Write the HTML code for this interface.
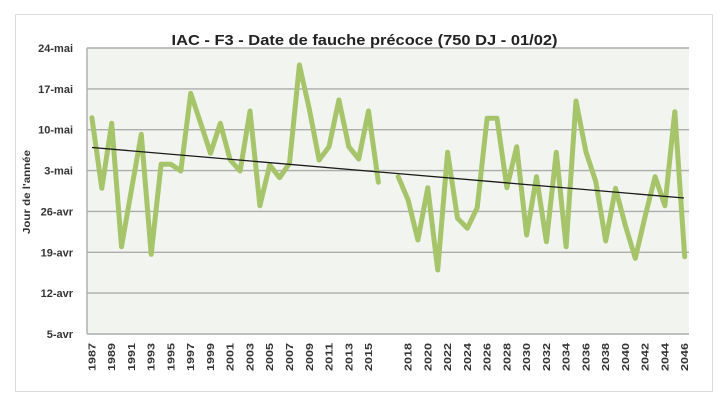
<!DOCTYPE html>
<html><head><meta charset="utf-8"><style>
html,body{margin:0;padding:0;background:#fff;}
svg{display:block;}
text{font-family:"Liberation Sans",sans-serif;font-weight:bold;}
</style></head><body>
<svg width="727" height="405" viewBox="0 0 727 405" xmlns="http://www.w3.org/2000/svg">
<rect x="0" y="0" width="727" height="405" fill="#fff"/>
<rect x="15.5" y="14.5" width="697" height="377" fill="#fff" stroke="#dcdcdc" stroke-width="1"/>
<rect x="87" y="48" width="602" height="286" fill="#f2f4ef"/>
<g stroke="#acacac" stroke-width="1.4">
<line x1="87" y1="48" x2="689" y2="48"/>
<line x1="87" y1="88.9" x2="689" y2="88.9"/>
<line x1="87" y1="129.7" x2="689" y2="129.7"/>
<line x1="87" y1="170.6" x2="689" y2="170.6"/>
<line x1="87" y1="211.4" x2="689" y2="211.4"/>
<line x1="87" y1="252.3" x2="689" y2="252.3"/>
<line x1="87" y1="293.1" x2="689" y2="293.1"/>
<line x1="87" y1="334" x2="689" y2="334"/>
<line x1="87" y1="48" x2="87" y2="334"/>
</g>
<text x="364.5" y="45" font-size="15" fill="#222" text-anchor="middle" textLength="386" lengthAdjust="spacingAndGlyphs">IAC - F3 - Date de fauche précoce (750 DJ - 01/02)</text>
<g font-size="11" fill="#333" text-anchor="end">
<text x="73" y="52">24-mai</text>
<text x="73" y="92.9">17-mai</text>
<text x="73" y="133.7">10-mai</text>
<text x="73" y="174.6">3-mai</text>
<text x="73" y="215.4">26-avr</text>
<text x="73" y="256.3">19-avr</text>
<text x="73" y="297.1">12-avr</text>
<text x="73" y="338">5-avr</text>
</g>
<text transform="translate(30,192) rotate(-90)" font-size="10" fill="#333" text-anchor="middle" textLength="84" lengthAdjust="spacingAndGlyphs">Jour de l'année</text>
<g font-size="10" fill="#333" text-anchor="end">
<text transform="translate(95.4,343) rotate(-90)" textLength="28" lengthAdjust="spacingAndGlyphs">1987</text>
<text transform="translate(115.2,343) rotate(-90)" textLength="28" lengthAdjust="spacingAndGlyphs">1989</text>
<text transform="translate(135,343) rotate(-90)" textLength="28" lengthAdjust="spacingAndGlyphs">1991</text>
<text transform="translate(154.7,343) rotate(-90)" textLength="28" lengthAdjust="spacingAndGlyphs">1993</text>
<text transform="translate(174.4,343) rotate(-90)" textLength="28" lengthAdjust="spacingAndGlyphs">1995</text>
<text transform="translate(194.2,343) rotate(-90)" textLength="28" lengthAdjust="spacingAndGlyphs">1997</text>
<text transform="translate(214,343) rotate(-90)" textLength="28" lengthAdjust="spacingAndGlyphs">1999</text>
<text transform="translate(233.7,343) rotate(-90)" textLength="28" lengthAdjust="spacingAndGlyphs">2001</text>
<text transform="translate(253.5,343) rotate(-90)" textLength="28" lengthAdjust="spacingAndGlyphs">2003</text>
<text transform="translate(273.2,343) rotate(-90)" textLength="28" lengthAdjust="spacingAndGlyphs">2005</text>
<text transform="translate(293,343) rotate(-90)" textLength="28" lengthAdjust="spacingAndGlyphs">2007</text>
<text transform="translate(312.8,343) rotate(-90)" textLength="28" lengthAdjust="spacingAndGlyphs">2009</text>
<text transform="translate(332.5,343) rotate(-90)" textLength="28" lengthAdjust="spacingAndGlyphs">2011</text>
<text transform="translate(352.3,343) rotate(-90)" textLength="28" lengthAdjust="spacingAndGlyphs">2013</text>
<text transform="translate(372,343) rotate(-90)" textLength="28" lengthAdjust="spacingAndGlyphs">2015</text>
<text transform="translate(411.6,343) rotate(-90)" textLength="28" lengthAdjust="spacingAndGlyphs">2018</text>
<text transform="translate(431.3,343) rotate(-90)" textLength="28" lengthAdjust="spacingAndGlyphs">2020</text>
<text transform="translate(451.1,343) rotate(-90)" textLength="28" lengthAdjust="spacingAndGlyphs">2022</text>
<text transform="translate(470.8,343) rotate(-90)" textLength="28" lengthAdjust="spacingAndGlyphs">2024</text>
<text transform="translate(490.6,343) rotate(-90)" textLength="28" lengthAdjust="spacingAndGlyphs">2026</text>
<text transform="translate(510.4,343) rotate(-90)" textLength="28" lengthAdjust="spacingAndGlyphs">2028</text>
<text transform="translate(530.1,343) rotate(-90)" textLength="28" lengthAdjust="spacingAndGlyphs">2030</text>
<text transform="translate(549.9,343) rotate(-90)" textLength="28" lengthAdjust="spacingAndGlyphs">2032</text>
<text transform="translate(569.6,343) rotate(-90)" textLength="28" lengthAdjust="spacingAndGlyphs">2034</text>
<text transform="translate(589.4,343) rotate(-90)" textLength="28" lengthAdjust="spacingAndGlyphs">2036</text>
<text transform="translate(609.2,343) rotate(-90)" textLength="28" lengthAdjust="spacingAndGlyphs">2038</text>
<text transform="translate(628.9,343) rotate(-90)" textLength="28" lengthAdjust="spacingAndGlyphs">2040</text>
<text transform="translate(648.7,343) rotate(-90)" textLength="28" lengthAdjust="spacingAndGlyphs">2042</text>
<text transform="translate(668.4,343) rotate(-90)" textLength="28" lengthAdjust="spacingAndGlyphs">2044</text>
<text transform="translate(688.2,343) rotate(-90)" textLength="28" lengthAdjust="spacingAndGlyphs">2046</text>
</g>
<g fill="none" stroke="#a6c46a" stroke-width="5" stroke-linejoin="round" stroke-linecap="round">
<polyline points="91.9,117.7 101.8,188.3 111.7,123.3 121.5,246.7 131.4,190 141.3,134.3 151.2,254.3 161.1,164.3 170.9,164.3 180.8,171 190.7,93.3 200.6,123 210.5,153.3 220.3,123.3 230.2,160 240.1,171 250,111 259.9,205.7 269.7,165 279.6,177.7 289.5,163.3 299.4,65 309.3,109 319.1,160 329,146.7 338.9,100 348.8,146.7 358.7,159 368.5,111 378.4,182.3"/>
<polyline points="398.2,176.7 408.1,200 417.9,240 427.8,187.7 437.7,270 447.6,152.3 457.5,218.3 467.3,228.3 477.2,207.7 487.1,118.3 497,118.3 506.9,187.7 516.7,146.7 526.6,235 536.5,176.7 546.4,241.7 556.3,152.3 566.1,246.7 576,101 585.9,151.7 595.8,181.7 605.7,241 615.5,188.3 625.4,225.7 635.3,258.3 645.2,216 655.1,176.7 664.9,205.7 674.8,111.7 684.7,256.7"/>
</g>
<line x1="92" y1="147.5" x2="684" y2="198" stroke="#1a1a1a" stroke-width="1.3"/>
</svg>
</body></html>
